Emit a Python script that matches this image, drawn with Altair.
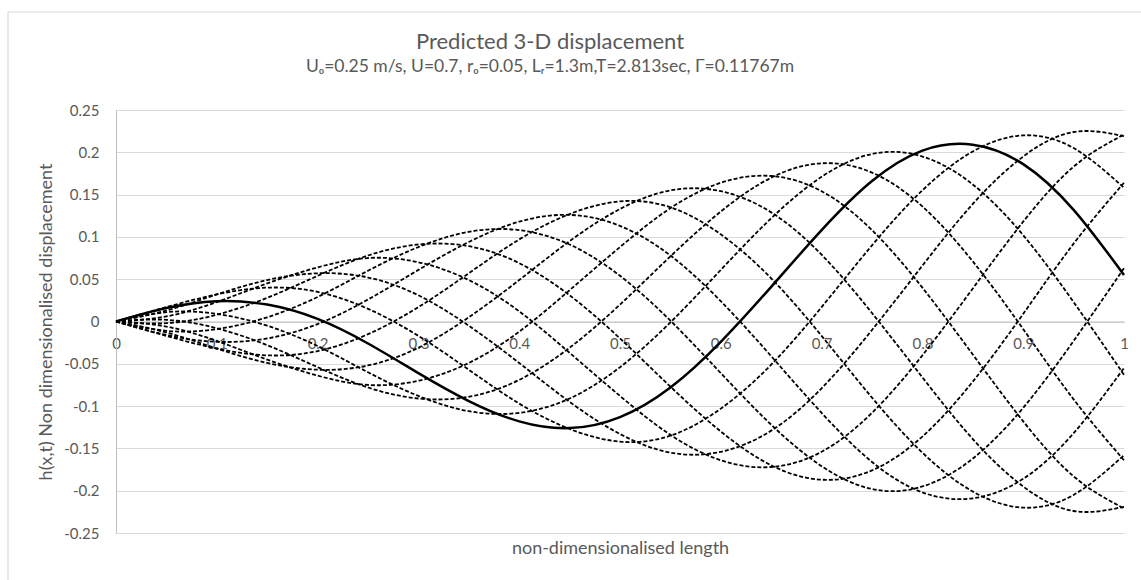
import altair as alt
import pandas as pd

# Non-dimensionalised position along the length
x_positions = [0.00, 0.05, 0.10, 0.15, 0.20, 0.25, 0.30, 0.35, 0.40, 0.45, 0.50,
               0.55, 0.60, 0.65, 0.70, 0.75, 0.80, 0.85, 0.90, 0.95, 1.00]

# Displacement h(x,t) at twelve instants through one period; t00 is drawn solid
h_t00 = [0, 0.016, 0.024, 0.020, 0.003, -0.026, -0.061, -0.094, -0.118, -0.126, -0.113,
         -0.078, -0.024, 0.041, 0.108, 0.166, 0.202, 0.209, 0.186, 0.132, 0.055]
h_t01 = [0, 0.017, 0.032, 0.040, 0.035, 0.015, -0.017, -0.057, -0.097, -0.127, -0.142,
         -0.135, -0.103, -0.051, 0.017, 0.090, 0.155, 0.201, 0.220, 0.205, 0.158]
h_t02 = [0, 0.013, 0.032, 0.049, 0.057, 0.052, 0.031, -0.005, -0.049, -0.095, -0.133,
         -0.155, -0.154, -0.129, -0.079, -0.010, 0.066, 0.139, 0.195, 0.224, 0.219]
h_t03 = [0, 0.006, 0.023, 0.045, 0.064, 0.075, 0.070, 0.049, 0.012, -0.037, -0.088,
         -0.134, -0.164, -0.172, -0.154, -0.108, -0.040, 0.039, 0.118, 0.183, 0.221]
h_t04 = [0, -0.002, 0.008, 0.028, 0.054, 0.078, 0.091, 0.089, 0.069, 0.031, -0.020,
         -0.077, -0.130, -0.170, -0.187, -0.176, -0.136, -0.071, 0.009, 0.092, 0.164]
h_t05 = [0, -0.011, -0.009, 0.005, 0.029, 0.060, 0.088, 0.106, 0.108, 0.091, 0.054,
         0.001, -0.061, -0.122, -0.171, -0.198, -0.195, -0.162, -0.102, -0.023, 0.063]
h_t06 = [0, -0.016, -0.024, -0.020, -0.003, 0.026, 0.061, 0.094, 0.118, 0.126, 0.113,
         0.078, 0.024, -0.041, -0.108, -0.166, -0.202, -0.209, -0.186, -0.132, -0.055]
h_t07 = [0, -0.017, -0.032, -0.040, -0.035, -0.015, 0.017, 0.057, 0.097, 0.127, 0.142,
         0.135, 0.103, 0.051, -0.017, -0.090, -0.155, -0.201, -0.220, -0.205, -0.158]
h_t08 = [0, -0.013, -0.032, -0.049, -0.057, -0.052, -0.031, 0.005, 0.049, 0.095, 0.133,
         0.155, 0.154, 0.129, 0.079, 0.010, -0.066, -0.139, -0.195, -0.224, -0.219]
h_t09 = [0, -0.006, -0.023, -0.045, -0.064, -0.075, -0.070, -0.049, -0.012, 0.037, 0.088,
         0.134, 0.164, 0.172, 0.154, 0.108, 0.040, -0.039, -0.118, -0.183, -0.221]
h_t10 = [0, 0.002, -0.008, -0.028, -0.054, -0.078, -0.091, -0.089, -0.069, -0.031, 0.020,
         0.077, 0.130, 0.170, 0.187, 0.176, 0.136, 0.071, -0.009, -0.092, -0.164]
h_t11 = [0, 0.011, 0.009, -0.005, -0.029, -0.060, -0.088, -0.106, -0.108, -0.091, -0.054,
         -0.001, 0.061, 0.122, 0.171, 0.198, 0.195, 0.162, 0.102, 0.023, -0.063]

y_ticks = [-0.25, -0.2, -0.15, -0.1, -0.05, 0, 0.05, 0.1, 0.15, 0.2, 0.25]
x_ticks = [0, 0.1, 0.2, 0.3, 0.4, 0.5, 0.6, 0.7, 0.8, 0.9, 1]

series = {
    "t00": h_t00, "t01": h_t01, "t02": h_t02, "t03": h_t03,
    "t04": h_t04, "t05": h_t05, "t06": h_t06, "t07": h_t07,
    "t08": h_t08, "t09": h_t09, "t10": h_t10, "t11": h_t11,
}

rows = []
for instant, values in series.items():
    for x, h in zip(x_positions, values):
        rows.append({"instant": instant, "x": x, "h": h})
df = pd.DataFrame(rows)

PLOT_W = 1008
PLOT_H = 423
TEXT = "#595959"

x_enc = alt.X(
    "x:Q",
    scale=alt.Scale(domain=[0, 1], nice=False),
    axis=alt.Axis(
        values=x_ticks,
        labelExpr="'' + datum.value",
        grid=False,
        ticks=False,
        tickSize=0,
        offset=-PLOT_H / 2,
        domainColor="#bfbfbf",
        labelFlush=False,
        labelPadding=15,
        labelColor=TEXT,
        labelFontSize=15,
        title="non-dimensionalised length",
        titleColor=TEXT,
        titleFontSize=18,
        titleFontWeight="normal",
        titlePadding=188,
    ),
)
y_enc = alt.Y(
    "h:Q",
    scale=alt.Scale(domain=[-0.25, 0.25], nice=False),
    axis=alt.Axis(
        values=y_ticks,
        labelExpr="'' + datum.value",
        grid=True,
        gridColor="#d9d9d9",
        ticks=False,
        tickSize=0,
        domainColor="#bfbfbf",
        labelPadding=17,
        labelColor=TEXT,
        labelFontSize=15,
        title="h(x,t) Non dimensionalised displacement",
        titleColor=TEXT,
        titleFontSize=18,
        titleFontWeight="normal",
        titlePadding=8,
    ),
)

base = alt.Chart(df)

dashed = base.transform_filter(alt.datum.instant != "t00").mark_line(
    color="black", strokeWidth=1.8, strokeDash=[4, 2], interpolate="natural"
).encode(x=x_enc, y=y_enc, detail="instant:N")

solid = base.transform_filter(alt.datum.instant == "t00").mark_line(
    color="black", strokeWidth=2.5, interpolate="natural"
).encode(x=x_enc, y=y_enc)

# chart-area frame (left and top edges)
frame_src = pd.DataFrame({"edge": [0]})
frame_top = alt.Chart(frame_src).mark_rule(color="#d9d9d9", strokeWidth=1.2).encode(
    x=alt.value(-108), x2=alt.value(1030), y=alt.value(-98)
)
frame_left = alt.Chart(frame_src).mark_rule(color="#d9d9d9", strokeWidth=1.2).encode(
    x=alt.value(-108), y=alt.value(-98), y2=alt.value(480)
)

chart = alt.layer(frame_top, frame_left, dashed, solid).properties(
    width=PLOT_W,
    height=PLOT_H,
    autosize=alt.AutoSizeParams(type="none"),
    padding={"left": 116, "top": 110, "right": 17, "bottom": 47},
    title=alt.Title(
        text="Predicted 3-D displacement",
        subtitle="Uₒ=0.25 m/s, U=0.7, rₒ=0.05, Lᵣ=1.3m,T=2.813sec, Γ=0.11767m",
        fontSize=22,
        fontWeight="normal",
        color=TEXT,
        subtitleFontSize=17.5,
        subtitleColor=TEXT,
        subtitlePadding=4,
        anchor="middle",
        offset=-65,
        dx=-70,
    ),
).configure(
    font="Lato",
    background="white",
).configure_view(strokeWidth=0)

chart.save("out.html", embed_options={"renderer": "svg", "actions": False})
